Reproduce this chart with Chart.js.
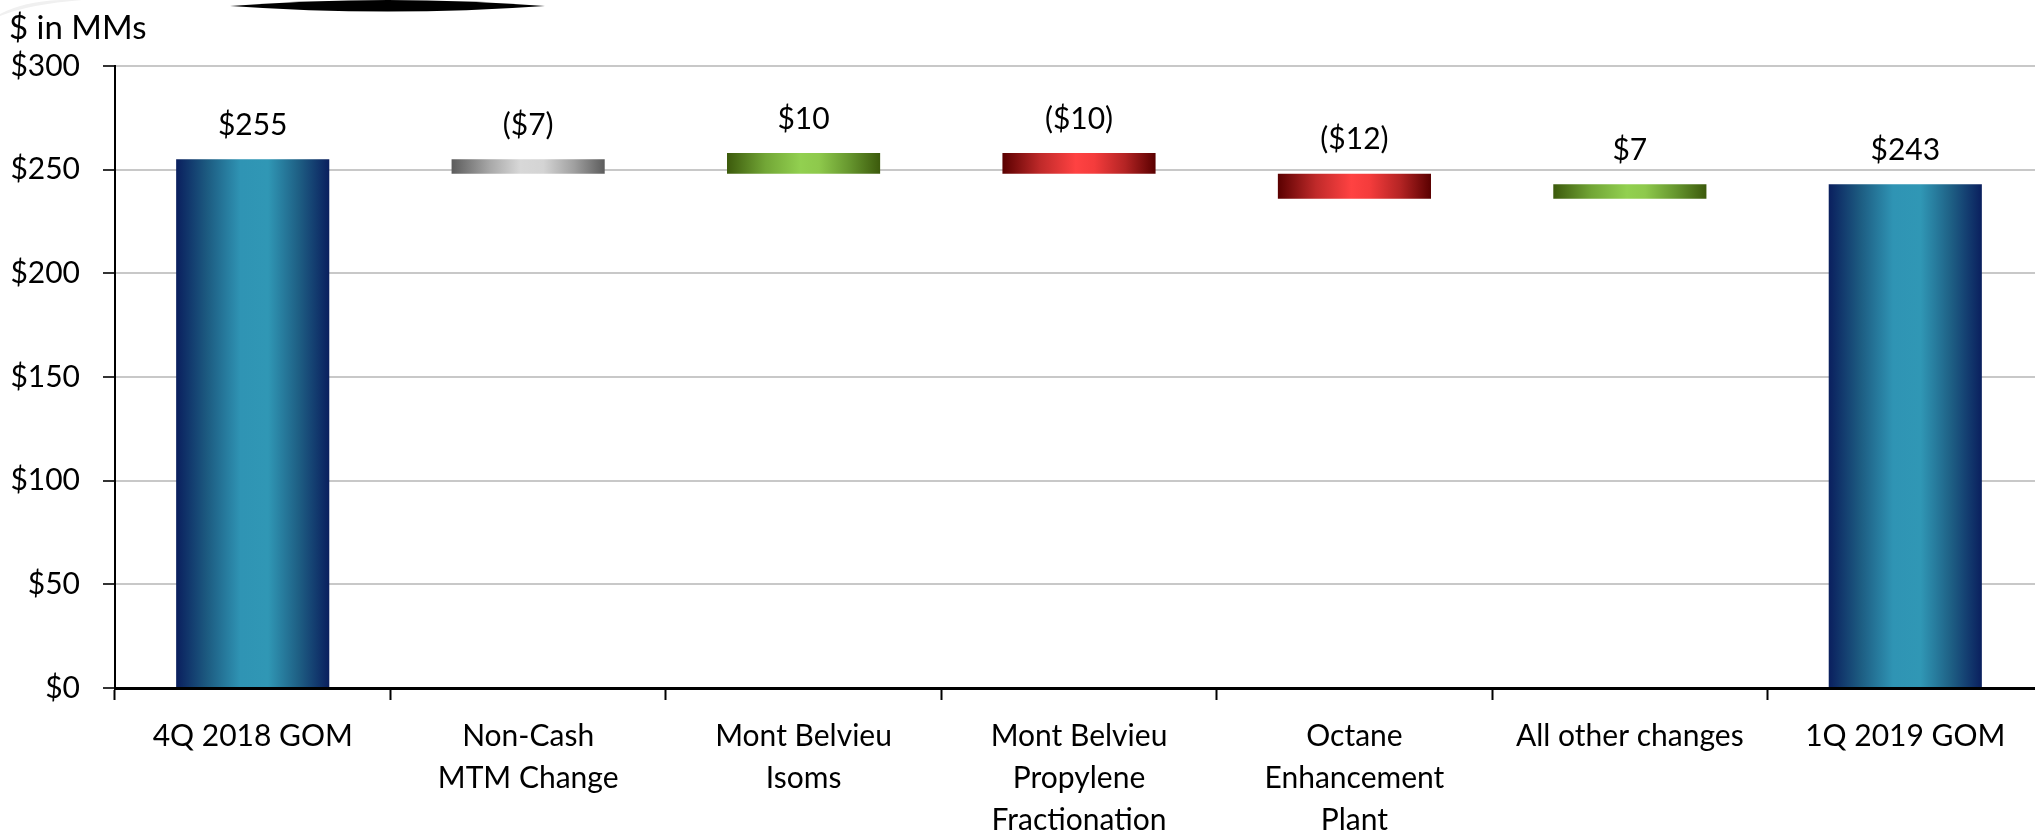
<!DOCTYPE html>
<html>
<head>
<meta charset="utf-8">
<script src="https://cdn.jsdelivr.net/npm/chart.js@4.4.1/dist/chart.umd.min.js"></script>
<style>
  html, body { margin: 0; padding: 0; background: #fff; overflow: hidden; }
  /* el área de trazado del original sobresale unos píxeles por la derecha */
  #wrap { position: relative; width: 2043px; height: 832px; }
</style>
</head>
<body>
<div id="wrap"><canvas id="grafico"></canvas></div>
<script>
// Datos ($ in MMs)
const categorias = [
  ['4Q 2018 GOM'],
  ['Non-Cash', 'MTM Change'],
  ['Mont Belvieu', 'Isoms'],
  ['Mont Belvieu', 'Propylene', 'Fractionation'],
  ['Octane', 'Enhancement', 'Plant'],
  ['All other changes'],
  ['1Q 2019 GOM']
];
const saldoInicial = 255;
const variaciones = [-7, 10, -10, -12, 7];
const saldoFinal = 243;
const tipos = ['total', 'mtm', 'sube', 'baja', 'baja', 'sube', 'total'];
const ticksY = [0, 50, 100, 150, 200, 250, 300];
const unidad = '$ in MMs';

// Rangos flotantes de la cascada (se construyen a partir de los datos)
const rangos = [[0, saldoInicial]];
let acumulado = saldoInicial;
variaciones.forEach(v => {
  const siguiente = acumulado + v;
  rangos.push([Math.min(acumulado, siguiente), Math.max(acumulado, siguiente)]);
  acumulado = siguiente;
});
rangos.push([0, saldoFinal]);
const etiquetas = [saldoInicial, ...variaciones, saldoFinal];

const FUENTE = 'Lato, "Open Sans", sans-serif';
const BAR_PCT = 0.556;

// Degradados horizontales (borde oscuro - centro claro - borde oscuro)
const paradas = {
  total: [[0, '#0a1f5e'], [0.2, '#1c5a80'], [0.42, '#2f94b4'], [0.6, '#3097b5'], [0.8, '#1e5f84'], [1, '#0a1f5e']],
  mtm:   [[0, '#5c5c5c'], [0.25, '#a8a8a8'], [0.45, '#d8d8d8'], [0.6, '#d4d4d4'], [0.8, '#a0a0a0'], [1, '#5c5c5c']],
  sube:  [[0, '#3c5a0c'], [0.25, '#72a636'], [0.48, '#92d050'], [0.6, '#8ec94c'], [0.8, '#66962e'], [1, '#3c5a0c']],
  baja:  [[0, '#5a0000'], [0.25, '#c02a2a'], [0.48, '#ff4242'], [0.6, '#f43c3c'], [0.8, '#b42424'], [1, '#5a0000']]
};

function fmt(v) {
  return v < 0 ? '($' + Math.abs(v) + ')' : '$' + v;
}

const pluginEtiquetas = {
  id: 'etiquetas',
  afterDatasetsDraw(chart) {
    const ctx = chart.ctx;
    const meta = chart.getDatasetMeta(0);
    ctx.save();
    ctx.font = '30px ' + FUENTE;
    ctx.fillStyle = '#000';
    ctx.textAlign = 'center';
    ctx.textBaseline = 'middle';
    meta.data.forEach((el, i) => {
      const arriba = Math.min(el.y, el.base);
      ctx.fillText(fmt(etiquetas[i]), el.x, arriba - 34);
    });
    ctx.restore();
  }
};

const pluginAdorno = {
  id: 'adorno',
  afterDraw(chart) {
    const ctx = chart.ctx;
    ctx.save();
    // unidad arriba a la izquierda
    ctx.font = '33px ' + FUENTE;
    ctx.fillStyle = '#000';
    ctx.textAlign = 'left';
    ctx.textBaseline = 'middle';
    ctx.fillText(unidad, 9, 28);
    // trazo gris claro en la esquina
    ctx.fillStyle = '#f0f0f0';
    ctx.beginPath();
    ctx.moveTo(0, 14);
    ctx.quadraticCurveTo(30, -2, 82, 0);
    ctx.quadraticCurveTo(30, 4, 0, 16);
    ctx.fill();
    // lente negra superior
    ctx.fillStyle = '#000';
    ctx.beginPath();
    ctx.moveTo(230, 6);
    ctx.quadraticCurveTo(388, -6, 545, 6);
    ctx.quadraticCurveTo(388, 17, 230, 6);
    ctx.fill();
    ctx.restore();
  }
};

new Chart(document.getElementById('grafico'), {
  type: 'bar',
  data: {
    labels: categorias,
    datasets: [{
      data: rangos,
      borderWidth: 0,
      borderSkipped: false,
      categoryPercentage: 1,
      barPercentage: BAR_PCT,
      backgroundColor: (c) => {
        const chart = c.chart;
        if (!chart.chartArea) return '#2f94b4';
        const x = chart.scales.x;
        const centro = x.getPixelForValue(c.dataIndex);
        const ancho = x.width / categorias.length * BAR_PCT;
        const g = chart.ctx.createLinearGradient(centro - ancho / 2, 0, centro + ancho / 2, 0);
        paradas[tipos[c.dataIndex]].forEach(([p, col]) => g.addColorStop(p, col));
        return g;
      }
    }]
  },
  options: {
    responsive: true,
    maintainAspectRatio: false,
    animation: false,
    layout: { padding: { left: 0, right: 0, top: 66, bottom: 0 } },
    plugins: {
      legend: { display: false },
      tooltip: { enabled: false },
      title: { display: false }
    },
    scales: {
      x: {
        offset: true,
        grid: {
          offset: true,
          drawOnChartArea: false,
          drawTicks: true,
          tickLength: 12,
          tickColor: '#000',
          tickWidth: 2
        },
        border: { display: true, color: '#000', width: 3 },
        ticks: {
          color: '#000',
          padding: 15,
          maxRotation: 0,
          autoSkip: false,
          font: { family: FUENTE, size: 30, lineHeight: 1.4 }
        },
        afterFit(scale) { scale.height = 144; }
      },
      y: {
        min: 0,
        max: 300,
        afterBuildTicks(scale) { scale.ticks = ticksY.map(v => ({ value: v })); },
        grid: {
          color: '#c8c8c8',
          lineWidth: 2,
          drawTicks: true,
          tickLength: 12,
          tickColor: '#333',
          tickWidth: 2
        },
        border: { display: true, color: '#000', width: 2 },
        ticks: {
          color: '#000',
          padding: 23,
          callback: (v) => '$' + v,
          font: { family: FUENTE, size: 30 }
        },
        afterFit(scale) { scale.width = 115; }
      }
    }
  },
  plugins: [pluginEtiquetas, pluginAdorno]
});
</script>
</body>
</html>
